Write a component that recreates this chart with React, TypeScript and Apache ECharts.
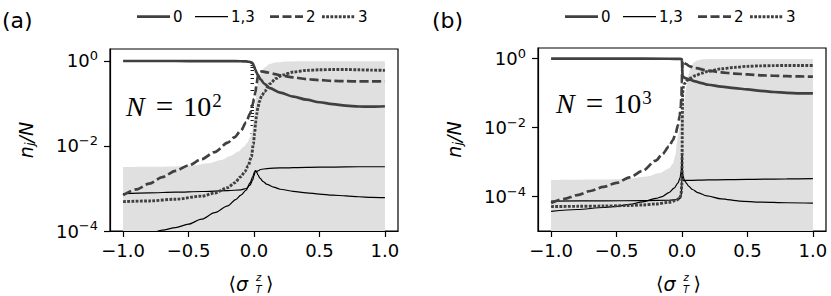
import React, { useEffect, useRef } from 'react';
import * as echarts from 'echarts';

const FONT = 'DejaVu Sans';
const SERIF = 'Liberation Serif';
const DARK = '#404040';
const SHADE = '#e0e0e0';

const xTickValues = [-1, -0.5, 0, 0.5, 1];
const yMajorExponents = [-4, -2, 0];
const legendLabels = ['0', '1,3', '2', '3'];
const panelLabels = ['(a)', '(b)'];
const sizeExponents = ['2', '3'];

// ---------- panel (a), N = 10^2 : [<σ_T^z>, n_j/N] ----------
const aShade = [[-1, 3.2e-3], [-0.8, 3.25e-3], [-0.6, 3.3e-3], [-0.45, 3.5e-3], [-0.35, 3.9e-3], [-0.25, 4.7e-3], [-0.18, 5.8e-3], [-0.12, 7.4e-3], [-0.08, 9.5e-3], [-0.05, 0.012], [-0.03, 0.016], [-0.015, 0.022], [-0.005, 0.035], [0.005, 0.07], [0.015, 0.15], [0.03, 0.3], [0.05, 0.5], [0.08, 0.7], [0.12, 0.85], [0.17, 0.93], [0.25, 0.97], [0.4, 0.98], [1.0, 0.98]];
const aN0 = [[-1, 1.0], [-0.8, 1.0], [-0.6, 1.0], [-0.4, 0.995], [-0.2, 0.99], [-0.1, 0.985], [-0.06, 0.975], [-0.04, 0.96], [-0.02, 0.93], [-0.01, 0.88], [0, 0.76], [0.01, 0.62], [0.02, 0.53], [0.03, 0.46], [0.05, 0.37], [0.08, 0.29], [0.12, 0.23], [0.2, 0.18], [0.3, 0.145], [0.4, 0.123], [0.5, 0.107], [0.6, 0.097], [0.7, 0.089], [0.8, 0.085], [0.9, 0.084], [1.0, 0.086]];
const aN13a = [[-1, 7.6e-4], [-0.8, 7.9e-4], [-0.6, 8.2e-4], [-0.4, 8.5e-4], [-0.2, 8.9e-4], [-0.1, 9.3e-4], [-0.06, 1.0e-3], [-0.03, 1.2e-3], [-0.01, 1.6e-3], [0.0, 2.0e-3], [0.008, 2.4e-3], [0.014, 2.6e-3], [0.02, 2.45e-3], [0.03, 2.1e-3], [0.045, 1.75e-3], [0.07, 1.45e-3], [0.1, 1.25e-3], [0.15, 1.08e-3], [0.2, 9.6e-4], [0.3, 8.6e-4], [0.4, 7.9e-4], [0.5, 7.4e-4], [0.6, 7.0e-4], [0.7, 6.7e-4], [0.8, 6.4e-4], [0.9, 6.2e-4], [1.0, 6.1e-4]];
const aN13b = [[-1, 6.5e-5], [-0.9, 7.5e-5], [-0.8, 8.8e-5], [-0.7, 1.05e-4], [-0.6, 1.2e-4], [-0.5, 1.45e-4], [-0.4, 1.9e-4], [-0.3, 2.7e-4], [-0.2, 3.9e-4], [-0.14, 5.5e-4], [-0.1, 7e-4], [-0.06, 9.2e-4], [-0.03, 1.35e-3], [-0.01, 1.9e-3], [0.005, 2.5e-3], [0.011, 2.65e-3], [0.02, 2.5e-3], [0.03, 2.6e-3], [0.05, 2.8e-3], [0.1, 2.95e-3], [0.2, 3.05e-3], [0.4, 3.15e-3], [0.6, 3.2e-3], [0.8, 3.25e-3], [1.0, 3.25e-3]];
const aN2 = [[-1, 7.0e-4], [-0.9, 9.5e-4], [-0.8, 1.3e-3], [-0.7, 1.85e-3], [-0.6, 2.6e-3], [-0.5, 3.5e-3], [-0.4, 4.9e-3], [-0.3, 7.2e-3], [-0.2, 0.012], [-0.15, 0.016], [-0.1, 0.023], [-0.06, 0.036], [-0.03, 0.058], [-0.01, 0.095], [0.0, 0.13], [0.01, 0.18], [0.02, 0.29], [0.03, 0.45], [0.04, 0.55], [0.06, 0.57], [0.1, 0.54], [0.15, 0.5], [0.2, 0.46], [0.3, 0.41], [0.4, 0.375], [0.5, 0.355], [0.6, 0.34], [0.7, 0.335], [0.8, 0.33], [0.9, 0.33], [1.0, 0.33]];
const aN3 = [[-1, 4.9e-4], [-0.8, 5.1e-4], [-0.6, 5.6e-4], [-0.4, 6.6e-4], [-0.3, 7.8e-4], [-0.2, 1.05e-3], [-0.15, 1.35e-3], [-0.1, 1.9e-3], [-0.07, 2.5e-3], [-0.045, 3.4e-3], [-0.02, 5.6e-3], [-0.005, 0.011], [0.005, 0.02], [0.012, 0.035], [0.02, 0.055], [0.03, 0.08], [0.04, 0.11], [0.06, 0.155], [0.08, 0.19], [0.12, 0.29], [0.17, 0.39], [0.22, 0.47], [0.3, 0.55], [0.4, 0.6], [0.5, 0.62], [0.6, 0.63], [0.7, 0.63], [0.8, 0.62], [0.9, 0.61], [1.0, 0.6]];

// ---------- panel (b), N = 10^3 ----------
const bShade = [[-1, 3.0e-4], [-0.6, 3.1e-4], [-0.4, 3.3e-4], [-0.27, 3.8e-4], [-0.17, 4.8e-4], [-0.1, 6.5e-4], [-0.07, 9e-4], [-0.05, 1.6e-3], [-0.04, 3.5e-3], [-0.03, 6e-3], [-0.015, 0.012], [0, 0.025], [0.015, 0.05], [0.025, 0.1], [0.035, 0.17], [0.05, 0.35], [0.07, 0.6], [0.09, 0.78], [0.12, 0.9], [0.16, 0.96], [0.22, 0.98], [1.0, 0.98]];
const bN0 = [[-1, 1.0], [-0.5, 1.0], [-0.1, 0.995], [-0.01, 0.99], [-0.002, 0.97], [0.0, 0.85], [0.002, 0.5], [0.004, 0.33], [0.01, 0.29], [0.03, 0.27], [0.06, 0.245], [0.1, 0.22], [0.15, 0.195], [0.2, 0.175], [0.3, 0.155], [0.4, 0.14], [0.5, 0.128], [0.6, 0.117], [0.7, 0.108], [0.8, 0.102], [0.9, 0.099], [1.0, 0.098]];
const bN13a = [[-1, 7.4e-5], [-0.6, 7.5e-5], [-0.3, 7.6e-5], [-0.1, 7.8e-5], [-0.03, 8.2e-5], [-0.012, 9e-5], [-0.005, 1.1e-4], [-0.002, 2e-4], [0.0, 1.6e-3], [0.003, 6e-4], [0.008, 4e-4], [0.015, 3.2e-4], [0.025, 2.7e-4], [0.035, 2.4e-4], [0.05, 2e-4], [0.08, 1.6e-4], [0.12, 1.3e-4], [0.19, 1.05e-4], [0.3, 8.6e-5], [0.44, 7.4e-5], [0.6, 6.9e-5], [0.8, 6.6e-5], [1.0, 6.4e-5]];
const bN13b = [[-1, 3.7e-5], [-0.8, 4.2e-5], [-0.6, 4.8e-5], [-0.5, 5.2e-5], [-0.4, 5.9e-5], [-0.3, 7e-5], [-0.2, 8.8e-5], [-0.15, 1.0e-4], [-0.1, 1.3e-4], [-0.06, 1.75e-4], [-0.03, 2.5e-4], [-0.015, 3.5e-4], [-0.006, 5.5e-4], [-0.002, 9e-4], [0.0, 1.6e-3], [0.002, 6e-4], [0.005, 3.3e-4], [0.01, 2.9e-4], [0.05, 2.95e-4], [0.2, 3.05e-4], [0.5, 3.15e-4], [0.8, 3.25e-4], [1.0, 3.3e-4]];
const bN2 = [[-1, 6.5e-5], [-0.9, 8.5e-5], [-0.8, 1.1e-4], [-0.7, 1.45e-4], [-0.6, 1.9e-4], [-0.5, 2.5e-4], [-0.4, 3.6e-4], [-0.3, 5.6e-4], [-0.2, 1.1e-3], [-0.15, 1.7e-3], [-0.1, 2.8e-3], [-0.07, 4.3e-3], [-0.05, 6.5e-3], [-0.03, 0.012], [-0.018, 0.022], [-0.01, 0.04], [-0.004, 0.08], [-0.001, 0.2], [0.001, 0.5], [0.004, 0.85], [0.01, 0.8], [0.03, 0.7], [0.06, 0.6], [0.1, 0.53], [0.2, 0.45], [0.3, 0.4], [0.4, 0.37], [0.5, 0.35], [0.6, 0.33], [0.7, 0.32], [0.8, 0.31], [0.9, 0.305], [1.0, 0.3]];
const bN3 = [[-1, 5.1e-5], [-0.8, 5.2e-5], [-0.6, 5.3e-5], [-0.4, 5.5e-5], [-0.3, 5.7e-5], [-0.2, 6.1e-5], [-0.1, 6.8e-5], [-0.05, 7.6e-5], [-0.02, 8.8e-5], [-0.008, 1.1e-4], [-0.002, 2e-4], [0.0, 4e-4], [0.001, 2e-3], [0.002, 0.01], [0.003, 0.04], [0.005, 0.1], [0.01, 0.15], [0.02, 0.19], [0.04, 0.235], [0.06, 0.27], [0.1, 0.32], [0.15, 0.38], [0.2, 0.43], [0.3, 0.51], [0.4, 0.56], [0.5, 0.6], [0.6, 0.62], [0.7, 0.63], [0.8, 0.635], [0.9, 0.635], [1.0, 0.635]];

const toLog = (pts: number[][]) => pts.map(([x, y]) => [x, Math.log10(y)]);

const minorExps = (lo: number, hi: number) => {
  const out: number[] = [];
  for (let n = Math.floor(lo); n <= Math.ceil(hi); n++) {
    for (let k = 2; k <= 9; k++) {
      const v = n + Math.log10(k);
      if (v > lo && v < hi) out.push(v);
    }
  }
  return out;
};

const supLabel = (v: number) => {
  const e = Math.round(v);
  return `{b|10}{s|${e === 0 ? '0' : '\u2212' + Math.abs(e)}}`;
};

const lineStyles = {
  n0: { color: DARK, width: 2.7, type: 'solid' as any },
  n13: { color: '#000', width: 1.2, type: 'solid' as any },
  n2: { color: DARK, width: 2.7, type: [9, 3.5] as any, cap: 'butt' as any },
  n3: { color: DARK, width: 2.9, type: [2.8, 1.4] as any, cap: 'butt' as any },
};

function panel(idx: number, d: { shade: number[][]; n0: number[][]; n13a: number[][]; n13b: number[][]; n2: number[][]; n3: number[][] }) {
  const xi = idx;
  const yi = idx * 2;
  const base = { type: 'line', xAxisIndex: xi, yAxisIndex: yi, symbol: 'none', showSymbol: false, smooth: 0.3, smoothMonotone: 'x', silent: true };
  return [
    { ...base, name: 'shade', data: toLog(d.shade), lineStyle: { width: 0, opacity: 0 }, areaStyle: { color: SHADE, opacity: 1, origin: 'start' }, z: 1 },
    { ...base, name: '1,3', data: toLog(d.n13a), lineStyle: lineStyles.n13, z: 3 },
    { ...base, name: '1,3', data: toLog(d.n13b), lineStyle: lineStyles.n13, z: 3 },
    { ...base, name: '0', data: toLog(d.n0), lineStyle: lineStyles.n0, z: 4 },
    { ...base, name: '2', data: toLog(d.n2), lineStyle: lineStyles.n2, z: 5 },
    { ...base, name: '3', data: toLog(d.n3), lineStyle: lineStyles.n3, z: 6 },
  ];
}

const grids = [
  { left: 110, top: 49, width: 288, height: 182 },
  { left: 538, top: 48, width: 288, height: 183 },
];
const yRanges = [
  { min: -4, max: 0.282 },
  { min: -5.0, max: 0.31 },
];
const showMinor = [true, false];

function legendGraphics(x0: number) {
  const y = 16.7;
  const offs = [0, 58, 133, 185];
  const styles = [lineStyles.n0, lineStyles.n13, lineStyles.n2, lineStyles.n3];
  const els: any[] = [];
  legendLabels.forEach((lab, i) => {
    const s = styles[i] as any;
    const xs = x0 + offs[i];
    els.push({
      type: 'line', silent: true,
      shape: { x1: xs, y1: y, x2: xs + 33, y2: y },
      style: { stroke: s.color, lineWidth: s.width, lineDash: Array.isArray(s.type) ? s.type : null, lineCap: 'butt' },
    });
    els.push({
      type: 'text', silent: true, x: xs + 36, y: y,
      style: { text: lab, fontFamily: FONT, fontSize: 15, fill: '#000', align: 'left', verticalAlign: 'middle' },
    });
  });
  return els;
}

function xNameGraphics(cx: number, cy: number) {
  const t = (text: string, x: number, y: number, size: number, italic: boolean) => ({
    type: 'text', silent: true, x, y,
    style: { text, fontFamily: FONT, fontSize: size, fontStyle: italic ? 'italic' : 'normal', fill: '#000', align: 'left', verticalAlign: 'middle' },
  });
  return [
    t('\u27E8', cx - 26, cy, 19, false),
    t('\u03C3', cx - 18.5, cy + 1, 19, true),
    t('z', cx + 1.5, cy - 5.5, 10, true),
    t('T', cx + 1, cy + 6, 10, true),
    t('\u27E9', cx + 11.5, cy, 19, false),
  ];
}

function nGraphic(x: number, y: number, exp: string) {
  return {
    type: 'text', silent: true, x, y,
    style: {
      text: `{n|N}{e|=}{d|10}{s|${exp}}`,
      fontFamily: SERIF, fontSize: 28, fill: '#000', align: 'left', verticalAlign: 'middle',
      rich: {
        n: { fontFamily: SERIF, fontSize: 28, fontStyle: 'italic', fill: '#000' },
        e: { fontFamily: SERIF, fontSize: 31, fill: '#000', padding: [0, 10, 0, 11] },
        d: { fontFamily: SERIF, fontSize: 28, fill: '#000' },
        s: { fontFamily: SERIF, fontSize: 19, fill: '#000', padding: [0, 0, 12, 1] },
      },
    },
  };
}

function buildOption() {
  const xAxes = grids.map((_, i) => ({
    type: 'value', gridIndex: i, min: -1.1, max: 1.1,
    axisLine: { show: true, onZero: false, lineStyle: { color: '#000', width: 1.2 } },
    axisTick: { show: true, inside: false, length: 6, customValues: xTickValues, lineStyle: { color: '#000', width: 1.2 } },
    axisLabel: {
      show: true, customValues: xTickValues, margin: 10, fontFamily: FONT, fontSize: 18, color: '#000',
      formatter: (v: number) => v.toFixed(1).replace('-', '\u2212'),
    },
    splitLine: { show: false },
  }));
  const yAxes: any[] = [];
  grids.forEach((_, i) => {
    yAxes.push({
      type: 'value', gridIndex: i, position: 'left', min: yRanges[i].min, max: yRanges[i].max,
      axisLine: { show: true, onZero: false, lineStyle: { color: '#000', width: 1.2 } },
      axisTick: { show: true, inside: false, length: 6, customValues: yMajorExponents, lineStyle: { color: '#000', width: 1.2 } },
      axisLabel: {
        show: true, customValues: yMajorExponents, margin: 12, fontFamily: FONT, color: '#000',
        formatter: supLabel,
        rich: {
          b: { fontFamily: FONT, fontSize: 18, color: '#000' },
          s: { fontFamily: FONT, fontSize: 13, color: '#000', padding: [0, 0, 11, 0] },
        },
      },
      splitLine: { show: false },
      name: '{i|n}{j|j}{i|/N}',
      nameLocation: 'middle', nameRotate: 90, nameGap: 74,
      nameTextStyle: {
        rich: {
          i: { fontFamily: FONT, fontSize: 19, fontStyle: 'italic', color: '#000' },
          j: { fontFamily: FONT, fontSize: 13, fontStyle: 'italic', color: '#000', padding: [8, 0, 0, 0] },
        },
      },
    });
    yAxes.push({
      type: 'value', gridIndex: i, position: 'left', min: yRanges[i].min, max: yRanges[i].max,
      axisLine: { show: false },
      axisTick: { show: showMinor[i], inside: false, length: 3.5, customValues: minorExps(yRanges[i].min, yRanges[i].max), lineStyle: { color: '#000', width: 0.9 } },
      axisLabel: { show: false },
      splitLine: { show: false },
    });
  });

  const graphics: any[] = [
    { type: 'text', silent: true, x: 2, y: 20, style: { text: panelLabels[0], fontFamily: FONT, fontSize: 22, fill: '#000', verticalAlign: 'middle' } },
    { type: 'text', silent: true, x: 432, y: 20, style: { text: panelLabels[1], fontFamily: FONT, fontSize: 22, fill: '#000', verticalAlign: 'middle' } },
    ...legendGraphics(137),
    ...legendGraphics(565),
    ...xNameGraphics(254.5, 283),
    ...xNameGraphics(682, 283),
    nGraphic(126, 106, sizeExponents[0]),
    nGraphic(556, 103, sizeExponents[1]),
  ];

  return {
    animation: false,
    backgroundColor: '#fff',
    grid: grids.map((g) => ({ ...g, show: true, borderColor: '#000', borderWidth: 1.2, backgroundColor: 'transparent', containLabel: false })),
    xAxis: xAxes,
    yAxis: yAxes,
    series: [
      ...panel(0, { shade: aShade, n0: aN0, n13a: aN13a, n13b: aN13b, n2: aN2, n3: aN3 }),
      ...panel(1, { shade: bShade, n0: bN0, n13a: bN13a, n13b: bN13b, n2: bN2, n3: bN3 }),
    ],
    graphic: graphics,
  };
}

export default function App() {
  const ref = useRef<HTMLDivElement>(null);
  useEffect(() => {
    const chart = echarts.init(ref.current!, null, { renderer: 'svg' });
    chart.setOption(buildOption() as any);
    return () => chart.dispose();
  }, []);
  return <div ref={ref} style={{ position: 'absolute', left: 0, top: 0, width: 831, height: 296 }} />;
}
